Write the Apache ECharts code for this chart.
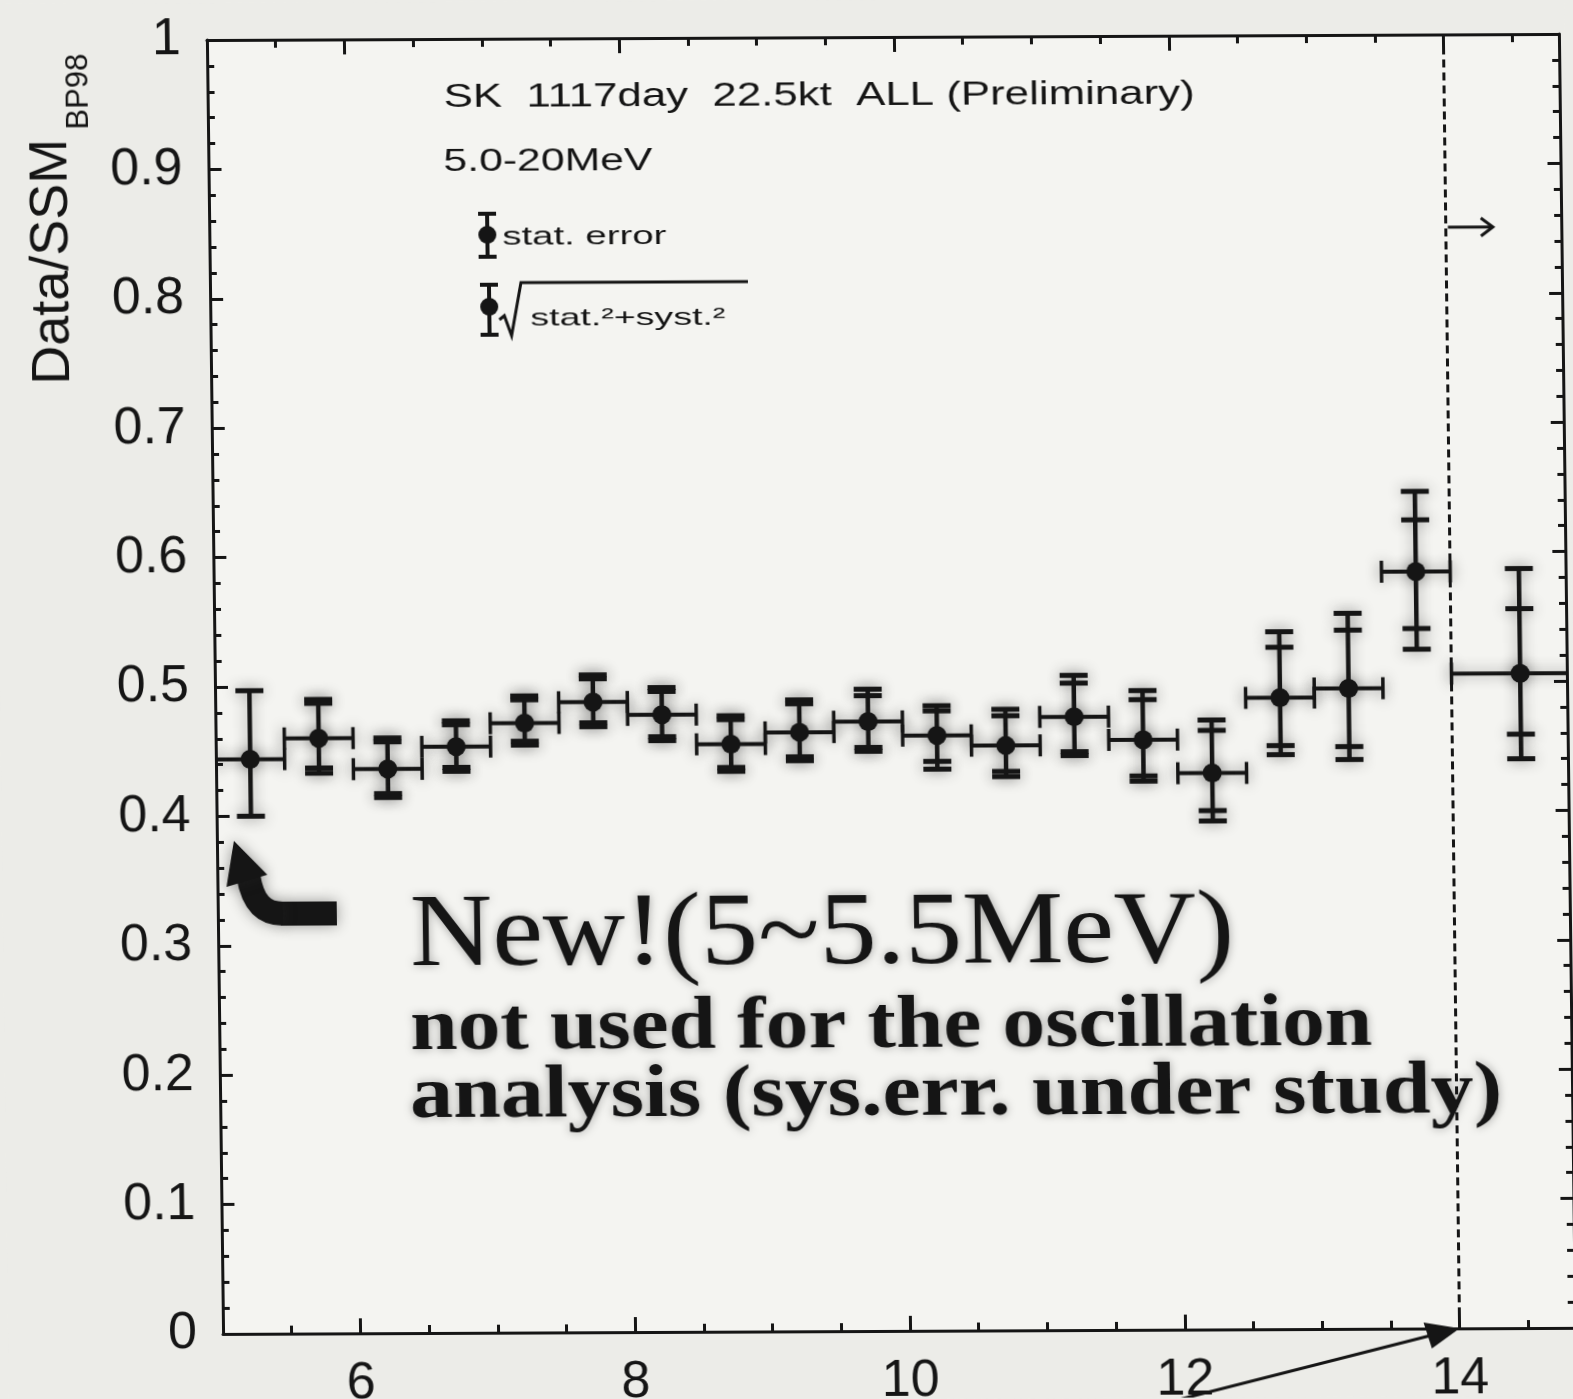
<!DOCTYPE html>
<html>
<head>
<meta charset="utf-8">
<script src="https://cdn.jsdelivr.net/npm/echarts@6/dist/echarts.min.js"></script>
<style>
  html, body { margin: 0; padding: 0; background: #ecece8; overflow: hidden; }
  #page { position: relative; width: 1573px; height: 1399px; overflow: hidden; }
  /* the printed figure sits very slightly skewed on the page */
  #chart { position: absolute; left: 0; top: 0; width: 1573px; height: 1399px;
           transform-origin: 890px 685px;
           transform: matrix(1, -0.0045, 0.0125, 1, 0, 0); }
</style>
</head>
<body>
<div id="page"><div id="chart"></div></div>
<script>
// Energy bins (MeV): plotted centre, lower and upper edge. The last bin is 14-20 MeV.
const binCenter = [5.25, 5.75, 6.25, 6.75, 7.25, 7.75, 8.25, 8.75, 9.25, 9.75,
                   10.25, 10.75, 11.25, 11.75, 12.25, 12.75, 13.25, 13.75, 14.5];
const binLow    = [5, 5.5, 6, 6.5, 7, 7.5, 8, 8.5, 9, 9.5,
                   10, 10.5, 11, 11.5, 12, 12.5, 13, 13.5, 14];
const binHigh   = [5.5, 6, 6.5, 7, 7.5, 8, 8.5, 9, 9.5, 10,
                   10.5, 11, 11.5, 12, 12.5, 13, 13.5, 14, 20];

// Data / SSM(BP98) ratio
const ratio     = [0.444, 0.460, 0.436, 0.453, 0.471, 0.487, 0.477, 0.454, 0.463, 0.471,
                   0.460, 0.452, 0.474, 0.456, 0.430, 0.488, 0.495, 0.585, 0.506];
// statistical error band (lower / upper end)
const statLow   = [0.400, 0.437, 0.417, 0.437, 0.457, 0.471, 0.460, 0.436, 0.444, 0.451,
                   0.440, 0.432, 0.447, 0.428, 0.401, 0.451, 0.450, 0.541, 0.459];
const statHigh  = [0.497, 0.487, 0.457, 0.470, 0.489, 0.505, 0.495, 0.473, 0.485, 0.491,
                   0.479, 0.475, 0.500, 0.487, 0.463, 0.527, 0.540, 0.625, 0.556];
// sqrt(stat^2 + syst^2) band; the new 5-5.5 MeV bin carries no systematic error yet
const totLow    = [null, 0.433, 0.414, 0.434, 0.454, 0.468, 0.457, 0.433, 0.441, 0.448,
                   0.434, 0.428, 0.444, 0.424, 0.393, 0.444, 0.440, 0.525, 0.440];
const totHigh   = [null, 0.490, 0.460, 0.473, 0.492, 0.508, 0.498, 0.476, 0.488, 0.496,
                   0.483, 0.480, 0.506, 0.494, 0.471, 0.539, 0.553, 0.647, 0.587];

// Axis ticks
const xMajorTicks = [6, 8, 10, 12, 14];
const xMinorTicks = [5.5, 6.5, 7, 7.5, 8.5, 9, 9.5, 10.5, 11, 11.5, 12.5, 13, 13.5, 14.5];
const X_MIN = 5, X_MAX = 14.84;
const thresholdE = 14;       // dashed line: last bin starts here

const INK = '#151515';
const SANS = '"Liberation Sans", Arial, Helvetica, sans-serif';
const SERIF = '"Liberation Serif", "Times New Roman", serif';

const points = binCenter.map((c, i) => [c, ratio[i], binLow[i], binHigh[i],
  statLow[i], statHigh[i],
  totLow[i] == null ? NaN : totLow[i],
  totHigh[i] == null ? NaN : totHigh[i]]);

const chart = echarts.init(document.getElementById('chart'), null, { width: 1573, height: 1399 });

const haze = { shadowBlur: 14, shadowColor: 'rgba(40,40,40,0.45)' };

function renderItem(params, api) {
  const xc = api.value(0), y = api.value(1);
  const c = api.coord([xc, y]);
  const l = api.coord([api.value(2), y]);
  const r = api.coord([api.value(3), y]);
  const sLo = api.coord([xc, api.value(4)])[1];
  const sHi = api.coord([xc, api.value(5)])[1];
  const tLoV = api.value(6), tHiV = api.value(7);
  const hasTot = !isNaN(tLoV) && !isNaN(tHiV);
  const tLo = hasTot ? api.coord([xc, tLoV])[1] : sLo;
  const tHi = hasTot ? api.coord([xc, tHiV])[1] : sHi;
  const capW = 14, endH = 11;
  const line = (x1, y1, x2, y2, w) => ({
    type: 'line', shape: { x1, y1, x2, y2 },
    style: Object.assign({ stroke: INK, lineWidth: w || 4 }, haze)
  });
  const kids = [
    line(l[0], c[1], r[0], c[1]),
    line(l[0], c[1] - endH, l[0], c[1] + endH, 3.5),
    line(r[0], c[1] - endH, r[0], c[1] + endH, 3.5),
    line(c[0], Math.min(tHi, sHi), c[0], Math.max(tLo, sLo), 4.5),
    line(c[0] - capW, sHi, c[0] + capW, sHi, 5),
    line(c[0] - capW, sLo, c[0] + capW, sLo, 5)
  ];
  if (hasTot) {
    kids.push(line(c[0] - capW, tHi, c[0] + capW, tHi, 5));
    kids.push(line(c[0] - capW, tLo, c[0] + capW, tLo, 5));
  }
  kids.push({ type: 'circle', shape: { cx: c[0], cy: c[1], r: 9.5 },
              style: Object.assign({ fill: INK }, haze) });
  return { type: 'group', children: kids };
}

const axisLineStyle = { color: INK, width: 3 };
function xAxisDef(pos, ticks, len, withLine, withLabel) {
  return {
    type: 'value', position: pos, min: X_MIN, max: X_MAX,
    axisLine: { show: withLine, onZero: false, lineStyle: axisLineStyle },
    axisTick: { show: true, inside: true, length: len, customValues: ticks,
                lineStyle: { color: INK, width: 3 } },
    axisLabel: withLabel
      ? { show: true, customValues: ticks, color: INK, fontFamily: SANS, fontSize: 52, margin: 25 }
      : { show: false },
    splitLine: { show: false }
  };
}
function yAxisDef(pos, withLabel) {
  return {
    type: 'value', position: pos, min: 0, max: 1, interval: 0.1,
    axisLine: { show: true, onZero: false, lineStyle: axisLineStyle },
    axisTick: { show: true, inside: true, length: 13, lineStyle: { color: INK, width: 3 } },
    minorTick: { show: true, splitNumber: 5, length: 7, lineStyle: { color: INK, width: 3 } },
    axisLabel: withLabel
      ? { show: true, color: INK, fontFamily: SANS, fontSize: 52, margin: 26,
          padding: [16, 0, 0, 0] }
      : { show: false },
    splitLine: { show: false }
  };
}

chart.setOption({
  backgroundColor: '#ecece8',
  animation: false,
  grid: { left: 215, right: 6, top: 37, bottom: 68, show: true,
          outerBoundsMode: 'none', containLabel: false,
          backgroundColor: '#f4f4f1', borderWidth: 0 },
  xAxis: [
    xAxisDef('bottom', xMajorTicks, 15, true, true),
    xAxisDef('bottom', xMinorTicks, 8, false, false),
    xAxisDef('top', xMajorTicks, 15, true, false),
    xAxisDef('top', xMinorTicks, 8, false, false)
  ],
  yAxis: [yAxisDef('left', true), yAxisDef('right', false)],
  series: [{
    type: 'custom',
    xAxisIndex: 0, yAxisIndex: 0,
    clip: true,
    renderItem: renderItem,
    data: points,
    markLine: {
      silent: true, symbol: ['none', 'none'], label: { show: false },
      lineStyle: { color: INK, width: 3, type: [8, 5] },
      data: [{ xAxis: thresholdE }]
    }
  }]
});

// ---- annotations ----
const measure = document.createElement('canvas').getContext('2d');
function stretch(text, font, width) {
  measure.font = font;
  return width / measure.measureText(text).width;
}
function label(text, x, y, size, family, weight, width, shadow) {
  const font = (weight || 'normal') + ' ' + size + 'px ' + family;
  return {
    type: 'text', x, y, scaleX: width ? stretch(text, font, width) : 1,
    style: Object.assign({ text, fill: INK, fontSize: size, fontFamily: family,
             fontWeight: weight || 'normal', textAlign: 'left', textVerticalAlign: 'middle' },
             shadow || {})
  };
}
function legendBar(x, yTop, yMid, yBot) {
  const s = { stroke: INK, lineWidth: 4 };
  return [
    { type: 'line', shape: { x1: x, y1: yTop, x2: x, y2: yBot }, style: s },
    { type: 'line', shape: { x1: x - 9, y1: yTop, x2: x + 9, y2: yTop }, style: s },
    { type: 'line', shape: { x1: x - 9, y1: yBot, x2: x + 9, y2: yBot }, style: s },
    { type: 'circle', shape: { cx: x, cy: yMid, r: 9 }, style: { fill: INK } }
  ];
}

const p14top = chart.convertToPixel({ xAxisIndex: 0, yAxisIndex: 0 }, [thresholdE, 0.851]);
const p14axis = chart.convertToPixel({ xAxisIndex: 0, yAxisIndex: 0 }, [thresholdE, 0]);
const textHaze = { textShadowColor: 'rgba(0,0,0,0.35)', textShadowBlur: 10 };

const elements = [
  // axis title
  { type: 'text', x: 58, y: 258, rotation: Math.PI / 2,
    style: { text: 'Data/SSM', fill: INK, fontSize: 54, fontFamily: SANS,
             textAlign: 'center', textVerticalAlign: 'middle' } },
  { type: 'text', x: 86, y: 88, rotation: Math.PI / 2,
    style: { text: 'BP98', fill: INK, fontSize: 31, fontFamily: SANS,
             textAlign: 'center', textVerticalAlign: 'middle' } },

  label('SK  1117day  22.5kt  ALL (Preliminary)', 451, 96, 34, SANS, 'normal', 751),
  label('5.0-20MeV', 450, 160, 31, SANS, 'normal', 209),
  ...legendBar(493, 212, 233, 255),
  label('stat. error', 508, 236, 25, SANS, 'normal', 164),
  ...legendBar(494, 283, 305, 333),
  { type: 'polyline', shape: { points: [[504, 318], [509, 314], [516, 334], [526, 281], [753, 281]] },
    style: { stroke: INK, lineWidth: 3, fill: null } },
  label('stat.\u00b2+syst.\u00b2', 535, 317, 24, SANS, 'normal', 195),

  // arrow pointing beyond 14 MeV
  { type: 'polyline', shape: { points: [[p14top[0] + 2, p14top[1]], [p14top[0] + 46, p14top[1]]] },
    style: { stroke: INK, lineWidth: 3, fill: null } },
  { type: 'polyline', shape: { points: [[p14top[0] + 35, p14top[1] - 9], [p14top[0] + 47, p14top[1]], [p14top[0] + 35, p14top[1] + 9]] },
    style: { stroke: INK, lineWidth: 3, fill: null } },

  // curved arrow toward the new lowest bin
  { type: 'line', shape: { x1: 334, y1: 911, x2: 278, y2: 911 },
    style: Object.assign({ stroke: INK, lineWidth: 24 }, haze) },
  { type: 'bezierCurve', shape: { x1: 280, y1: 911, cpx1: 260, cpy1: 911, cpx2: 250, cpy2: 899, x2: 246, y2: 873 },
    style: Object.assign({ stroke: INK, lineWidth: 24, fill: null }, haze) },
  { type: 'polygon', shape: { points: [[232, 838], [224, 884], [265, 872]] },
    style: Object.assign({ fill: INK }, haze) },

  label('New!(5~5.5MeV)', 407, 936, 103, SERIF, 'normal', 824, textHaze),
  label('not used for the oscillation', 406, 1028, 74, SERIF, 'bold', 962, textHaze),
  label('analysis (sys.err. under study)', 405, 1096, 74, SERIF, 'bold', 1092, textHaze),

  // pointer to the 14 MeV threshold on the axis
  { type: 'line', shape: { x1: p14axis[0] - 410, y1: p14axis[1] + 102, x2: p14axis[0] - 25, y2: p14axis[1] + 6 },
    style: { stroke: INK, lineWidth: 3 } },
  { type: 'polygon', shape: { points: [[p14axis[0], p14axis[1]], [p14axis[0] - 36, p14axis[1] - 6], [p14axis[0] - 28, p14axis[1] + 20]] },
    style: { fill: INK } }
];

chart.setOption({ graphic: { elements } });
</script>
</body>
</html>
